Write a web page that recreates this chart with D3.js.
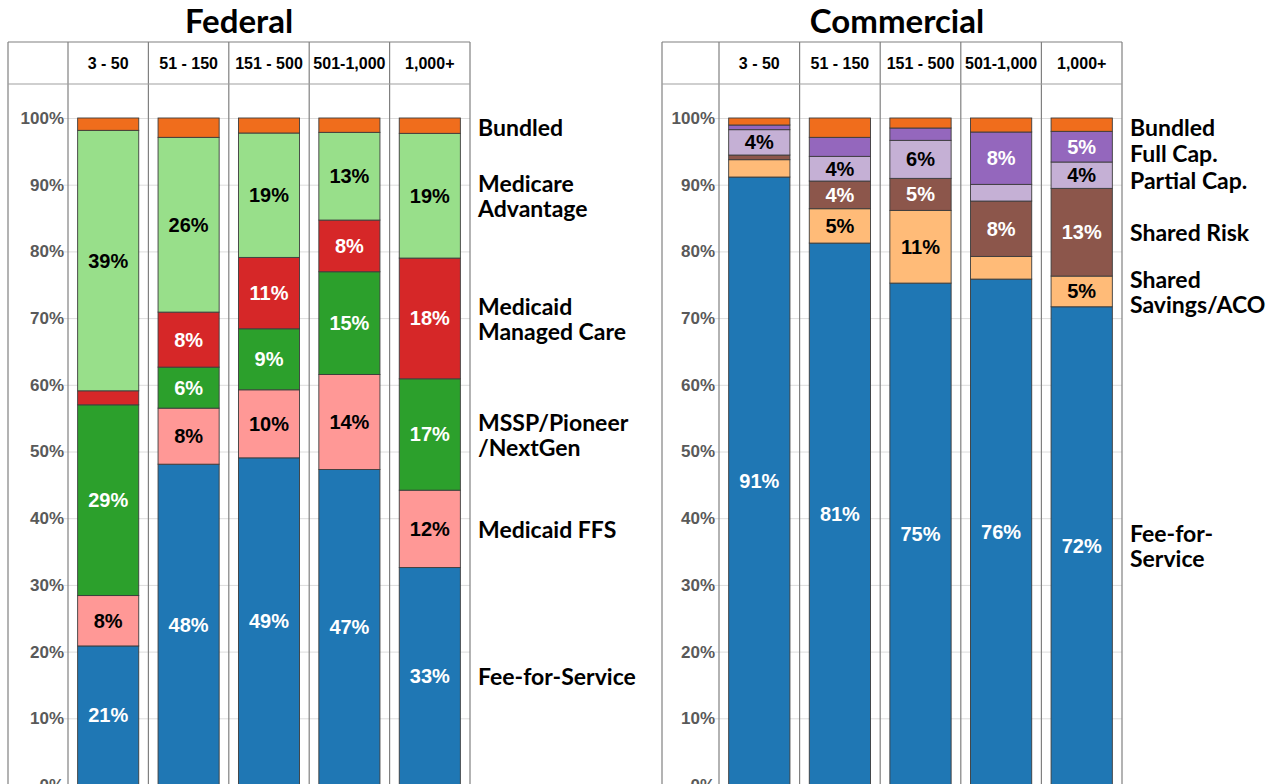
<!DOCTYPE html>
<html>
<head>
<meta charset="utf-8">
<script src="https://cdn.jsdelivr.net/npm/d3@7"></script>
<style>
  html, body { margin: 0; padding: 0; background: #fff; }
  svg { display: block; }
</style>
</head>
<body>
<svg id="chart" width="1278" height="784"></svg>
<script>
// practice size buckets (columns)
const sizes = ['3 - 50', '51 - 150', '151 - 500', '501-1,000', '1,000+'];
const yTicks = [0, 10, 20, 30, 40, 50, 60, 70, 80, 90, 100];

// federal payer mix, % of revenue, bottom to top
const fedKeys = ['ffs', 'mcdFfs', 'mssp', 'mcdMc', 'ma', 'bundled'];
const fedFfs     = [20.85, 48.1, 49.05, 47.3, 32.6];
const fedMcdFfs  = [7.55, 8.4, 10.2, 14.25, 11.6];
const fedMssp    = [28.6, 6.15, 9.15, 15.4, 16.7];
const fedMcdMc   = [2.1, 8.25, 10.7, 7.75, 18.1];
const fedMa      = [39.05, 26.2, 18.65, 13.15, 18.7];
const fedBundled = [1.85, 2.9, 2.25, 2.15, 2.3];
const fedLabels  = [['Fee-for-Service'], ['Medicaid FFS'], ['MSSP/Pioneer', '/NextGen'],
                    ['Medicaid', 'Managed Care'], ['Medicare', 'Advantage'], ['Bundled']];

// commercial payer mix, bottom to top
const comKeys = ['ffs', 'savings', 'risk', 'partial', 'full', 'bundled'];
const comFfs     = [91.15, 81.25, 75.25, 75.85, 71.7];
const comSavings = [2.6, 5.15, 10.9, 3.4, 4.6];
const comRisk    = [0.7, 4.15, 4.8, 8.3, 13.15];
const comPartial = [3.8, 3.7, 5.7, 2.5, 3.95];
const comFull    = [0.7, 2.85, 1.85, 7.85, 4.6];
const comBundled = [1.05, 2.9, 1.5, 2.1, 2.0];
const comLabels  = [['Fee-for-', 'Service'], ['Shared', 'Savings/ACO'], ['Shared Risk'],
                    ['Partial Cap.'], ['Full Cap.'], ['Bundled']];

const fedColors = ['#1f77b4', '#ff9896', '#2ca02c', '#d62728', '#98df8a', '#f06d1c'];
const comColors = ['#1f77b4', '#ffbb78', '#8c564b', '#c5b0d5', '#9467bd', '#f06d1c'];
const darkFills = new Set(['#1f77b4', '#2ca02c', '#d62728', '#8c564b', '#9467bd']);

function rows(keys, cols) {
    return sizes.map((s, i) => {
        let r = { size: s };
        keys.forEach((k, j) => r[k] = cols[j][i]);
        return r;
    });
}

const panels = [
    { title: 'Federal', left: 8, axisW: 60, right: 470, keys: fedKeys, colors: fedColors, labels: fedLabels,
      data: rows(fedKeys, [fedFfs, fedMcdFfs, fedMssp, fedMcdMc, fedMa, fedBundled]) },
    { title: 'Commercial', left: 662, axisW: 57, right: 1122, keys: comKeys, colors: comColors, labels: comLabels,
      data: rows(comKeys, [comFfs, comSavings, comRisk, comPartial, comFull, comBundled]) },
];

const svg = d3.select('#chart');
const y = d3.scaleLinear().domain([0, 100]).range([785, 118]);
const headTop = 42, headBot = 84;
const lineColor = '#808080';
const labelFont = 'Lato, "Open Sans", sans-serif';
const arialFont = '"Liberation Sans", Arial, sans-serif';

panels.forEach(p => {
    const g = svg.append('g');
    const plotLeft = p.left + p.axisW;
    const x = d3.scaleBand().domain(sizes).range([plotLeft, p.right])
        .paddingInner(0.24).paddingOuter(0.12);
    const step = x.step();

    // title
    g.append('text')
        .attr('x', (p.left + p.right) / 2 + (p.title === 'Commercial' ? 5 : 0))
        .attr('y', 33)
        .attr('text-anchor', 'middle')
        .style('font-family', labelFont)
        .style('font-weight', 700)
        .style('font-size', '33px')
        .text(p.title);

    // y axis: labels + gridlines
    const axisX = plotLeft - 4;
    const axis = d3.axisLeft(y)
        .tickValues(yTicks)
        .tickFormat(d => d + '%')
        .tickSize(-(p.right - axisX))
        .tickPadding(0);
    const ag = g.append('g').attr('transform', `translate(${axisX},0)`).call(axis);
    ag.select('.domain').remove();
    ag.selectAll('.tick line').attr('stroke', '#dcdcdc').attr('stroke-width', 1);
    ag.selectAll('.tick text')
        .attr('fill', '#595959')
        .style('font-family', arialFont)
        .style('font-weight', 700)
        .style('font-size', '17px');

    // table frame
    const bounds = [p.left, plotLeft].concat(sizes.map(s => x(s) - step * 0.12 + step));
    bounds.forEach(bx => {
        g.append('line')
            .attr('x1', bx).attr('x2', bx)
            .attr('y1', headTop).attr('y2', 784)
            .attr('stroke', lineColor).attr('stroke-width', 1.2);
    });
    [headTop, headBot].forEach(hy => {
        g.append('line')
            .attr('x1', p.left).attr('x2', p.right)
            .attr('y1', hy).attr('y2', hy)
            .attr('stroke', hy === headTop ? lineColor : '#a0a0a0').attr('stroke-width', 1.2);
    });

    // column headers
    g.selectAll('.hdr').data(sizes).join('text')
        .attr('x', d => x(d) + x.bandwidth() / 2)
        .attr('y', (headTop + headBot) / 2)
        .attr('text-anchor', 'middle')
        .attr('dominant-baseline', 'central')
        .style('font-family', arialFont)
        .style('font-weight', 700)
        .style('font-size', '16px')
        .text(d => d);

    // stacked bars
    const series = d3.stack().keys(p.keys)(p.data);
    series.forEach((s, si) => {
        const color = p.colors[si];
        const sg = g.append('g');
        sg.selectAll('rect').data(s).join('rect')
            .attr('x', d => x(d.data.size))
            .attr('width', x.bandwidth())
            .attr('y', d => y(d[1]))
            .attr('height', d => y(d[0]) - y(d[1]))
            .attr('fill', color)
            .attr('stroke', '#3c3c3c')
            .attr('stroke-width', 0.9);
        sg.selectAll('text').data(s.filter(d => d[1] - d[0] >= 3.5)).join('text')
            .attr('x', d => x(d.data.size) + x.bandwidth() / 2)
            .attr('y', d => y((d[0] + d[1]) / 2))
            .attr('text-anchor', 'middle')
            .attr('dominant-baseline', 'central')
            .attr('fill', darkFills.has(color) ? '#fff' : '#000')
            .style('font-family', arialFont)
            .style('font-weight', 700)
            .style('font-size', '20px')
            .text(d => Math.round(d[1] - d[0]) + '%');
    });

    // right-hand labels, lined up with the last bar's segments (pushed apart at the top)
    const last = series.map(s => s[s.length - 1]);
    let centers = last.map(d => y((d[0] + d[1]) / 2));
    const lineH = 25;
    // walk from the top down so labels don't collide
    let order = centers.map((c, i) => i).sort((a, b) => centers[a] - centers[b]);
    let prevBottom = 126 - lineH / 2 - 1;
    order.forEach(i => {
        const n = p.labels[i].length;
        const half = n * lineH / 2;
        let c = Math.max(centers[i], prevBottom + half + 1.5);
        centers[i] = c;
        prevBottom = c + half;
    });
    p.labels.forEach((lines, i) => {
        const t = g.append('text')
            .attr('x', p.right + 8)
            .style('font-family', labelFont)
            .style('font-weight', 700)
            .style('font-size', '23px');
        lines.forEach((ln, li) => {
            t.append('tspan')
                .attr('x', p.right + 8)
                .attr('y', centers[i] + (li - (lines.length - 1) / 2) * lineH)
                .attr('dominant-baseline', 'central')
                .text(ln);
        });
    });
});
</script>
</body>
</html>
